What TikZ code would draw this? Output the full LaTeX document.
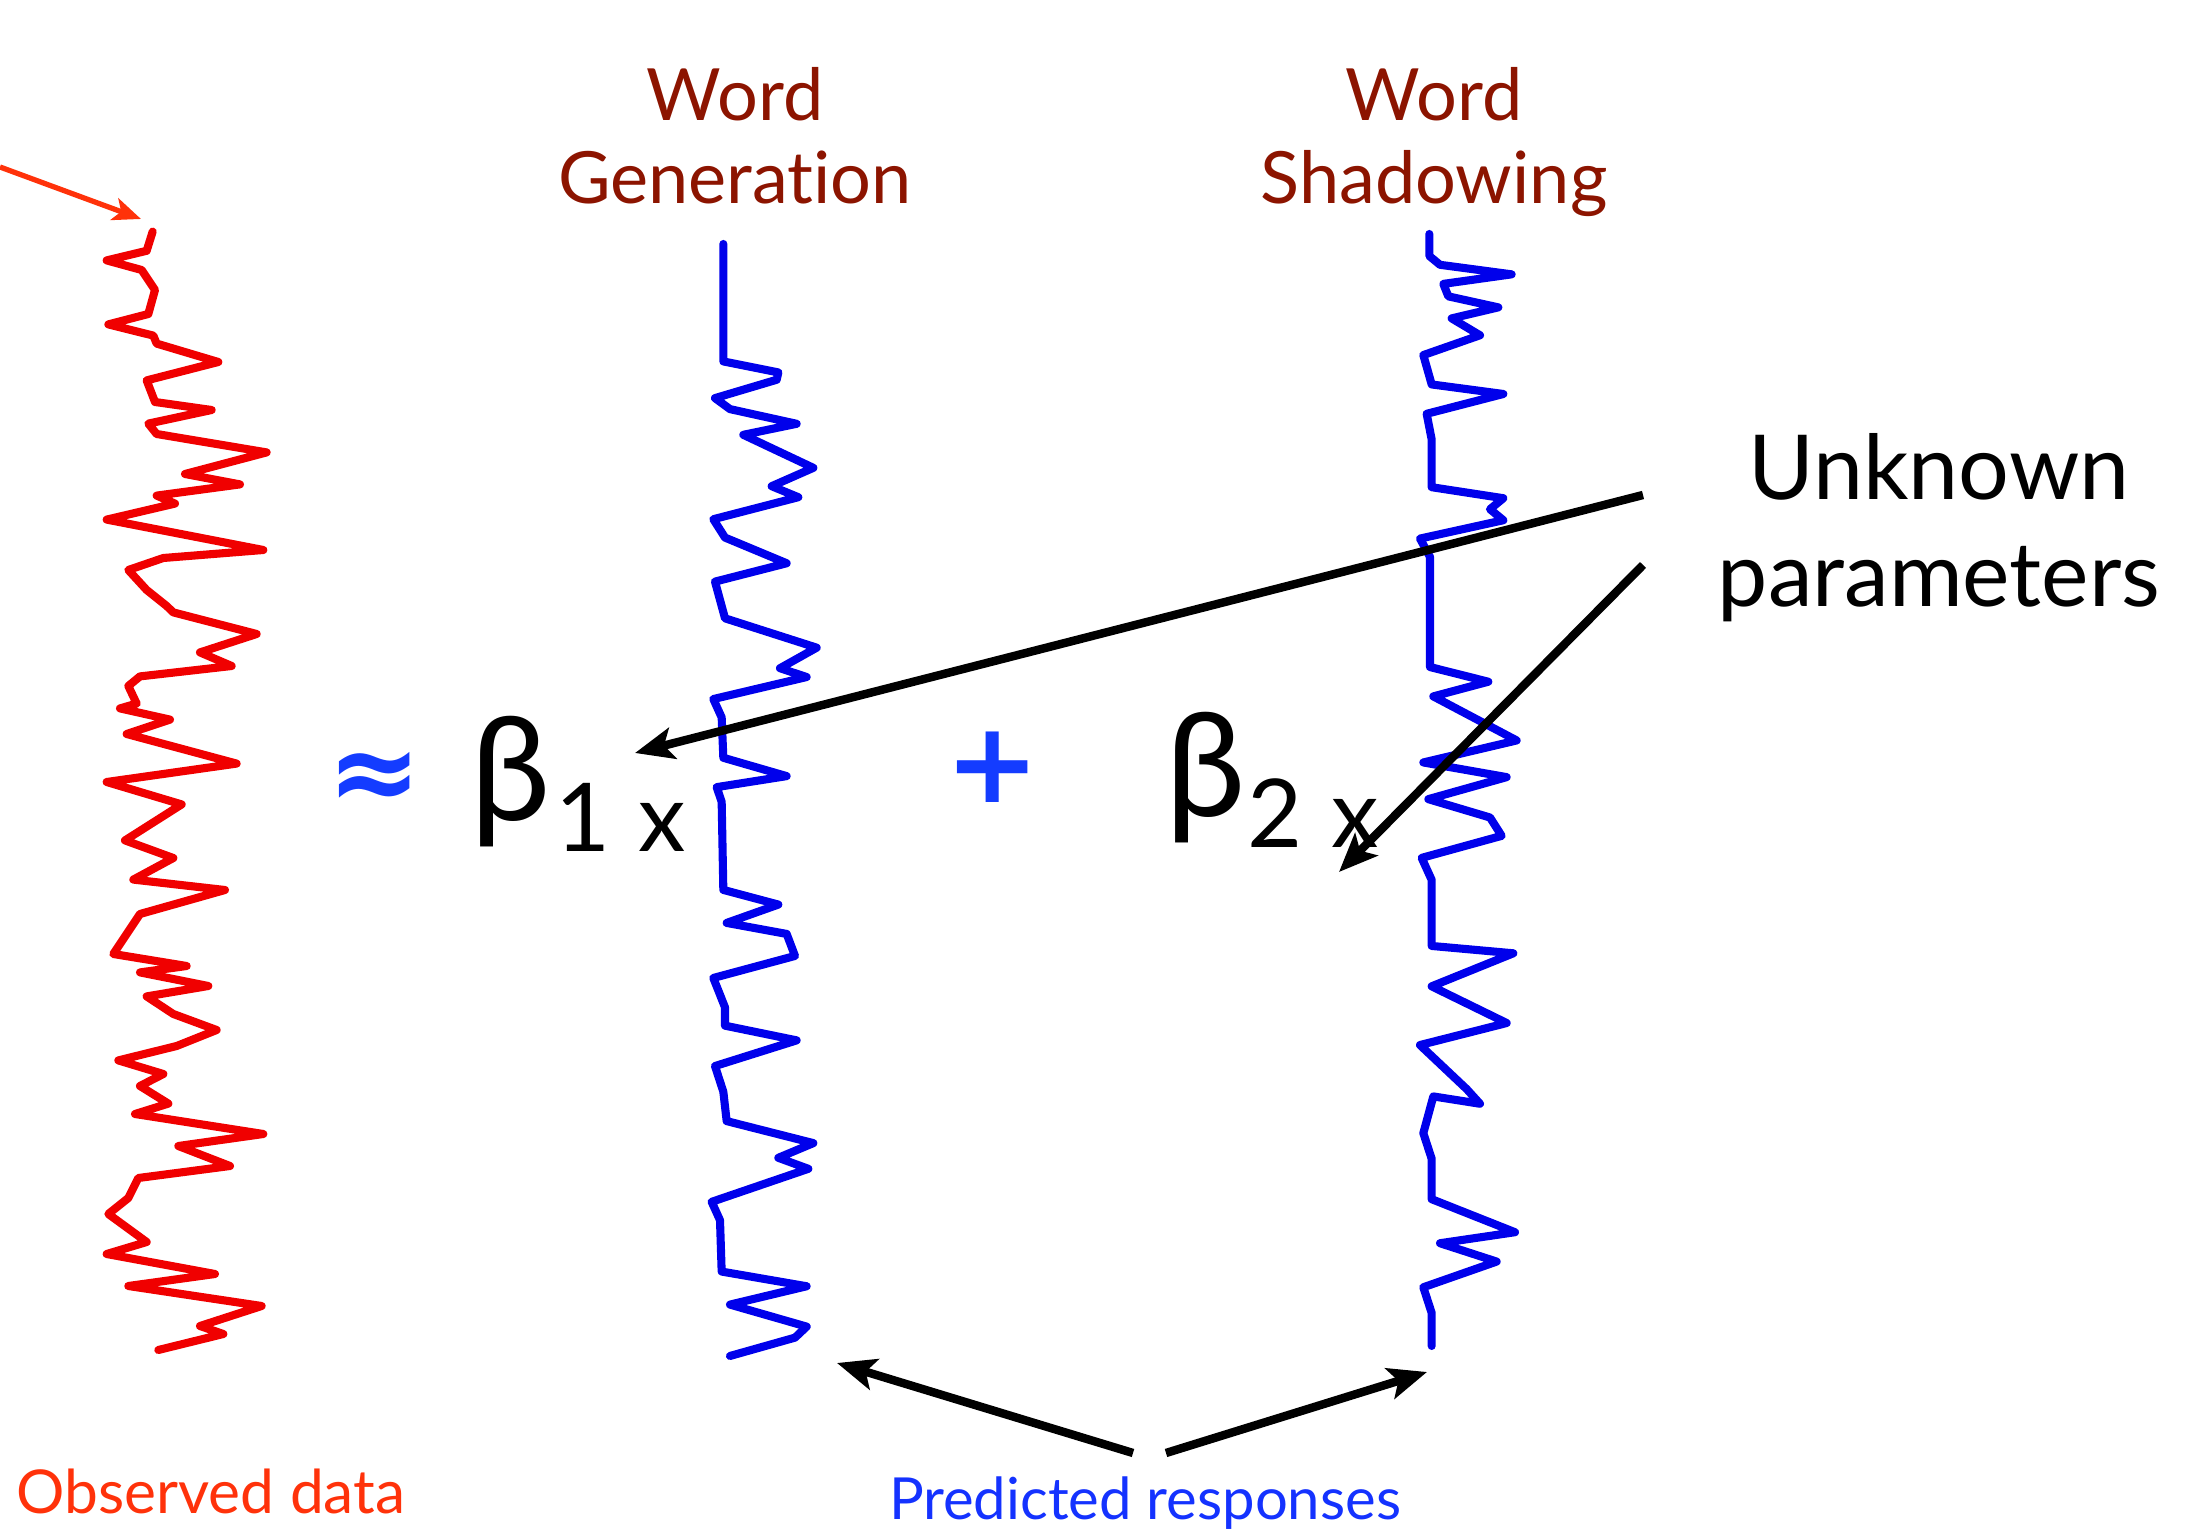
\documentclass[tikz,border=0pt]{standalone}
\usepackage{fontspec}
\setmainfont{Lato}[Ligatures={NoCommon,NoContextual}]
\newfontfamily\symfont{DejaVu Sans}
\usetikzlibrary{arrows.meta}
\definecolor{dred}{RGB}{140,20,0}
\definecolor{obsred}{RGB}{255,50,10}
\definecolor{tracered}{RGB}{240,0,0}
\definecolor{traceblue}{RGB}{0,0,235}
\definecolor{predblue}{RGB}{20,50,255}
\definecolor{opblue}{RGB}{20,60,255}
\tikzset{
  headlbl/.style={text=dred, align=center, inner sep=0pt, font=\fontsize{20.5}{23.6}\selectfont},
  redtrace/.style={draw=tracered, line width=2.3pt, line join=round, line cap=round},
  bluetrace/.style={draw=traceblue, line width=2.3pt, line join=round, line cap=round},
  blkarrow/.style={draw=black, line width=2.4pt, -{Stealth[length=11pt,width=9pt,inset=2.5pt]}},
  redarrow/.style={draw=obsred, line width=1.5pt, -{Stealth[length=8pt,width=6.5pt,inset=2pt]}},
  betalbl/.style={inner sep=0pt, font=\fontsize{41}{45}\selectfont},
  sublbl/.style={inner sep=0pt, font=\fontsize{27}{30}\selectfont},
  oplbl/.style={inner sep=0pt, text=opblue, font=\symfont\bfseries\fontsize{32}{36}\selectfont}
}
\begin{document}
\begin{tikzpicture}[x=0.01cm,y=-0.01cm]
\useasboundingbox (0,0) rectangle (2187,1537);

% headings (base anchor = last line)
\node[headlbl, anchor=base] (wg) at (735,204) {Word\\Generation};
\node[headlbl, anchor=base] (ws) at (1434,204) {Word\\Shadowing};

% unknown parameters
\node[inner sep=0pt, anchor=base, align=center, font=\fontsize{25.5}{30.7}\selectfont] (up) at (1939,607) {Unknown\\parameters};

% bottom labels
\node[inner sep=0pt, anchor=base, text=obsred, font=\fontsize{17.2}{20}\selectfont] (obs) at (211,1513) {Observed data};
\node[inner sep=0pt, anchor=base, text=predblue, font=\fontsize{16.5}{20}\selectfont] (pred) at (1145,1519) {Predicted responses};

% equation
\node[oplbl] (approx) at (375,781) {≈};
\node[betalbl, anchor=south] (b1) at (511,848) {β};
\node[sublbl, anchor=base] (one) at (583,852) {1};
\node[sublbl, anchor=base] (x1) at (662,852) {x};
\node[oplbl] (plus) at (993,767) {+};
\node[betalbl, anchor=south] (b2) at (1206,844) {β};
\node[sublbl, anchor=base] (two) at (1275,848) {2};
\node[sublbl, anchor=base] (x2) at (1355,848) {x};

% red trace (observed data)
\begin{scope}[shift={(0,126)}, xscale=0.33333, yscale=0.8]
\draw[redtrace] (458,132) -- (440,156) -- (320,168) -- (425,180) -- (465,205) -- (445,235) -- (325,248) -- (460,262) -- (470,272) -- (655,295) -- (440,318) -- (465,345) -- (635,355) -- (445,372) -- (470,385) -- (800,408) -- (555,435) -- (720,448) -- (470,462) -- (525,472) -- (320,492) -- (790,530) -- (490,540) -- (385,555) -- (440,580) -- (500,600) -- (520,608) -- (770,635) -- (600,658) -- (695,675) -- (420,688) -- (385,700) -- (410,722) -- (360,728) -- (510,742) -- (380,760) -- (710,797) -- (320,820) -- (545,848) -- (375,893) -- (520,915) -- (400,942) -- (675,955) -- (420,985) -- (340,1035) -- (560,1050) -- (420,1058) -- (625,1075) -- (440,1088) -- (520,1110) -- (650,1130) -- (530,1150) -- (355,1168) -- (490,1185) -- (420,1200) -- (505,1222) -- (405,1235) -- (790,1260) -- (535,1275) -- (690,1300) -- (415,1315) -- (385,1340) -- (325,1360) -- (440,1395) -- (320,1410) -- (645,1435) -- (385,1450) -- (785,1475) -- (600,1500) -- (670,1510) -- (475,1530);
\end{scope}

% blue trace 1 (word generation)
\begin{scope}[shift={(680,229.3)}, xscale=0.33333, yscale=0.734]
\draw[bluetrace] (130,20) -- (130,180) -- (295,195) -- (290,205) -- (105,230) -- (150,245) -- (350,265) -- (190,280) -- (400,325) -- (275,350) -- (355,365) -- (100,395) -- (135,420) -- (320,455) -- (105,480) -- (135,530) -- (410,570) -- (300,598) -- (380,610) -- (100,640) -- (125,665) -- (130,720) -- (320,745) -- (110,760) -- (125,780) -- (130,900) -- (295,920) -- (140,945) -- (320,960) -- (345,990) -- (100,1020) -- (135,1060) -- (135,1085) -- (350,1105) -- (105,1140) -- (130,1175) -- (140,1215) -- (400,1245) -- (295,1265) -- (385,1280) -- (95,1325) -- (120,1350) -- (125,1420) -- (380,1440) -- (150,1465) -- (380,1495) -- (345,1510) -- (150,1535);
\end{scope}

% blue trace 2 (word shadowing)
\begin{scope}[shift={(1390,219.3)}, xscale=0.33333, yscale=0.734]
\draw[bluetrace] (118,20) -- (118,50) -- (150,62) -- (365,75) -- (160,88) -- (175,105) -- (325,120) -- (185,135) -- (270,158) -- (100,185) -- (125,225) -- (340,238) -- (110,265) -- (125,300) -- (125,365) -- (340,380) -- (300,395) -- (340,410) -- (90,435) -- (120,460) -- (120,610) -- (295,630) -- (130,650) -- (380,710) -- (100,740) -- (350,760) -- (115,790) -- (300,815) -- (335,840) -- (95,870) -- (125,900) -- (125,990) -- (370,1000) -- (125,1045) -- (350,1095) -- (90,1125) -- (230,1185) -- (270,1205) -- (130,1195) -- (100,1245) -- (125,1280) -- (125,1335) -- (375,1380) -- (150,1395) -- (320,1420) -- (100,1455) -- (125,1490) -- (125,1535);
\end{scope}

% connector endpoints
\coordinate (redstart) at (0,167);
\coordinate (redtip) at (141,219);
\coordinate (up1) at (1643,495);
\coordinate (up2) at (1643,565);
\coordinate (b1tip) at (635,753);
\coordinate (b2tip) at (1339,872);
\coordinate (pr1) at (1133,1453);
\coordinate (pr2) at (1166,1453);
\coordinate (g1end) at (837,1363);
\coordinate (g2end) at (1427,1372);

\draw[redarrow] (redstart) -- (redtip);
\draw[blkarrow] (up1) -- (b1tip);
\draw[blkarrow] (up2) -- (b2tip);
\draw[blkarrow] (pr1) -- (g1end);
\draw[blkarrow] (pr2) -- (g2end);
\end{tikzpicture}
\end{document}
